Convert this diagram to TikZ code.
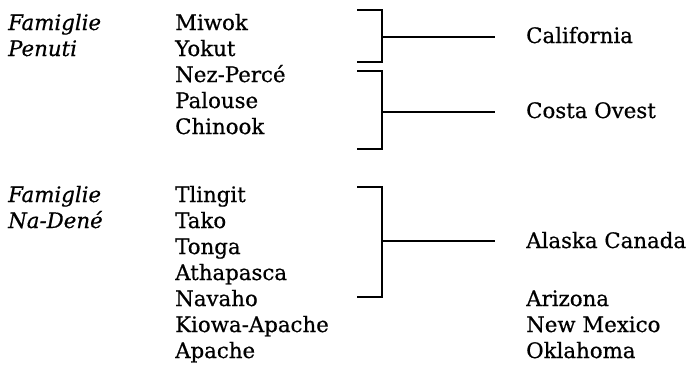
\documentclass[tikz,border=0pt]{standalone}
\usepackage{fontspec}
\setmainfont{DejaVu Serif}[FakeBold=0.6]
\begin{document}
\begin{tikzpicture}[x=1pt,y=-1pt,
  item/.style={anchor=base west, inner sep=0pt, font=\fontsize{21.3}{24}\selectfont},
  fam/.style={item, font=\fontsize{21.3}{24}\selectfont\itshape},
  brk/.style={line width=1.8pt, line cap=butt, line join=miter}]
\useasboundingbox (0,0) rectangle (691,384);

% family labels
\node[fam] (f1a) at (8,30) {Famiglie};
\node[fam] (f1b) at (8,56) {Penuti};
\node[fam] (f2a) at (8,202) {Famiglie};
\node[fam] (f2b) at (8,228) {Na-Dené};

% languages
\node[item] (l1) at (175,30) {Miwok};
\node[item] (l2) at (175,56) {Yokut};
\node[item] (l3) at (175,82) {Nez-Percé};
\node[item] (l4) at (175,108) {Palouse};
\node[item] (l5) at (175,134) {Chinook};
\node[item] (l6) at (175,202) {Tlingit};
\node[item] (l7) at (175,228) {Tako};
\node[item] (l8) at (175,254) {Tonga};
\node[item] (l9) at (175,280) {Athapasca};
\node[item] (l10) at (175,306) {Navaho};
\node[item] (l11) at (175,332) {Kiowa-Apache};
\node[item] (l12) at (175,358) {Apache};

% regions
\node[item] (r1) at (526,43) {California};
\node[item] (r2) at (526,118) {Costa Ovest};
\node[item] (r3) at (526,248) {Alaska Canada};
\node[item] (r4) at (526,306) {Arizona};
\node[item] (r5) at (526,332) {New Mexico};
\node[item] (r6) at (526,358) {Oklahoma};

% brackets and their leaders
\coordinate (k1) at (382,37);
\coordinate (k2) at (382,112);
\coordinate (k3) at (382,241);
\draw[brk] (357,10) -- (382,10) -- (382,62) -- (357,62);
\draw[brk] (357,71) -- (382,71) -- (382,149) -- (357,149);
\draw[brk] (357,187) -- (382,187) -- (382,297) -- (357,297);
\draw[brk] (k1) -- ([xshift=-31pt]k1 -| r1.west);
\draw[brk] (k2) -- ([xshift=-31pt]k2 -| r2.west);
\draw[brk] (k3) -- ([xshift=-31pt]k3 -| r3.west);
\end{tikzpicture}
\end{document}
